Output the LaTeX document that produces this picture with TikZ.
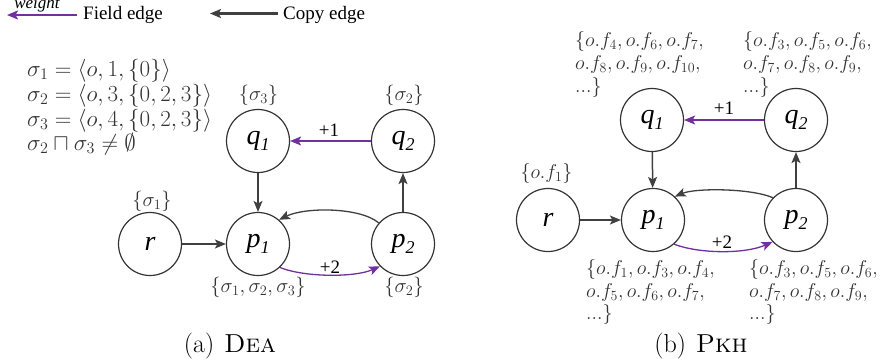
\RequirePackage{fix-cm}
\documentclass[tikz,border=0pt]{standalone}
\usepackage{fontspec}
\newfontfamily\tnr{Liberation Serif}
\usetikzlibrary{arrows.meta}
\definecolor{fieldc}{HTML}{7030A0}
\definecolor{copyc}{HTML}{404040}
\definecolor{txtc}{HTML}{333333}
\newcommand\nsub[1]{\raisebox{-0.2em}{\fontsize{18}{18}\selectfont #1}}
\tikzset{
  st/.style={circle, draw=black!80, line width=1.2pt, minimum size=63pt, inner sep=0pt,
    font=\tnr\itshape\fontsize{28}{28}\selectfont},
  arrtip/.style={-{Stealth[length=11pt,width=9pt,inset=2.5pt]}},
  fieldedge/.style={draw=fieldc, line width=1.5pt, arrtip},
  copyedge/.style={draw=copyc, line width=1.5pt, arrtip},
  eq/.style={text=txtc, inner sep=0pt, anchor=base west, font=\fontsize{23}{25}\selectfont},
  setlbl/.style={text=txtc, inner sep=0pt, anchor=base, font=\fontsize{20.5}{20.5}\selectfont},
  flbl/.style={text=txtc, inner sep=0pt, anchor=base west, font=\fontsize{20}{23}\selectfont},
  wlbl/.style={inner sep=0pt, anchor=base, font=\tnr\fontsize{19}{19}\selectfont},
  captxt/.style={inner sep=0pt, anchor=base, font=\fontsize{26}{26}\selectfont},
}
\begin{document}
\begin{tikzpicture}[x=1pt,y=-1pt]
\useasboundingbox (0,0) rectangle (881,362);
% legend
\coordinate (fa) at (77,15); \coordinate (fb) at (7,15);
\draw[fieldedge, line width=2.4pt] (fa) -- (fb);
\node[wlbl, font=\tnr\itshape\fontsize{17}{17}\selectfont] (wt) at (37,8) {weight};
\node[wlbl, anchor=base west] (fe) at (83,19) {Field edge};
\coordinate (ca) at (278,13.5); \coordinate (cb) at (210,13.5);
\draw[copyedge, line width=2.4pt] (ca) -- (cb);
\node[wlbl, anchor=base west] (ce) at (283,19) {Copy edge};
% equations
\node[eq] (e1) at (27,76.5) {$\sigma_1 = \langle o, 1, \{0\}\rangle$};
\node[eq] (e2) at (27,101.5) {$\sigma_2 = \langle o, 3, \{0, 2, 3\}\rangle$};
\node[eq] (e3) at (27,126.5) {$\sigma_3 = \langle o, 4, \{0, 2, 3\}\rangle$};
\node[eq] (e4) at (27,150.5) {$\sigma_2 \sqcap \sigma_3 \neq \emptyset$};
% left graph
\node[st] (lq1) at (258,141) {q\nsub{1}};
\node[st] (lq2) at (403,141) {q\nsub{2}};
\node[st] (lr) at (150,244) {r};
\node[st] (lp1) at (258,244) {p\nsub{1}};
\node[st] (lp2) at (403,244) {p\nsub{2}};
\node[setlbl] (lq1s) at (258.5,100) {$\{\sigma_3\}$};
\node[setlbl] (lq2s) at (404,100) {$\{\sigma_2\}$};
\node[setlbl] (lrs) at (152,206) {$\{\sigma_1\}$};
\node[setlbl] (lp1s) at (258,292) {$\{\sigma_1, \sigma_2, \sigma_3\}$};
\node[setlbl] (lp2s) at (404,292) {$\{\sigma_2\}$};
\draw[fieldedge] (lq2) -- (lq1);
\node[wlbl] (lw1) at (329,136) {+1};
\draw[copyedge] (lq1) -- (lp1);
\draw[copyedge] (lr) -- (lp1);
\draw[copyedge] (lp2) -- (lq2);
\draw[copyedge, line width=1.3pt] (lp2.139) .. controls (360,207) and (305,207) .. (lp1.49);
\draw[fieldedge, line width=1.3pt] (lp1.-47) .. controls (305,277.5) and (355,277.5) .. (lp2.-136);
\node[wlbl] (lw2) at (330,273) {+2};
\node[captxt] (capa) at (230,352) {(a)\hspace{0.38em}\textsc{Dea}};
% right graph
\node[st] (rq1) at (652,120) {q\nsub{1}};
\node[st] (rq2) at (796,120) {q\nsub{2}};
\node[st] (rr) at (548,220) {r};
\node[st] (rp1) at (653,220) {p\nsub{1}};
\node[st] (rp2) at (796,220) {p\nsub{2}};
\node[setlbl, font=\fontsize{20}{20}\selectfont] (rrs) at (546.5,178) {$\{o.f_1\}$};
\node[flbl] (q1a) at (575,46) {$\{o.f_4, o.f_6, o.f_7,$};
\node[flbl] (q1b) at (575,69) {$o.f_8, o.f_9, o.f_{10},$};
\node[flbl] (q1c) at (575,92) {$...\}$};
\node[flbl] (q2a) at (743,46) {$\{o.f_3, o.f_5, o.f_6,$};
\node[flbl] (q2b) at (743,69) {$o.f_7, o.f_8, o.f_9,$};
\node[flbl] (q2c) at (743,92) {$...\}$};
\node[flbl] (p1a) at (586,274) {$\{o.f_1, o.f_3, o.f_4,$};
\node[flbl] (p1b) at (586,297) {$o.f_5, o.f_6, o.f_7,$};
\node[flbl] (p1c) at (586,319) {$...\}$};
\node[flbl] (p2a) at (749,274) {$\{o.f_3, o.f_5, o.f_6,$};
\node[flbl] (p2b) at (749,297) {$o.f_7, o.f_8, o.f_9,$};
\node[flbl] (p2c) at (749,319) {$...\}$};
\draw[fieldedge] (rq2) -- (rq1);
\node[wlbl] (rw1) at (724,114) {+1};
\draw[copyedge] (rq1) -- (rp1);
\draw[copyedge] (rr) -- (rp1);
\draw[copyedge] (rp2) -- (rq2);
\draw[copyedge, line width=1.3pt] (rp2.136) .. controls (750,188) and (695,188) .. (rp1.47);
\draw[fieldedge, line width=1.3pt] (rp1.-49) .. controls (700,254) and (745,254) .. (rp2.-137);
\node[wlbl] (rw2) at (722,248) {+2};
\node[captxt] (capb) at (701,352) {(b)\hspace{0.38em}\textsc{Pkh}};
\end{tikzpicture}
\end{document}
